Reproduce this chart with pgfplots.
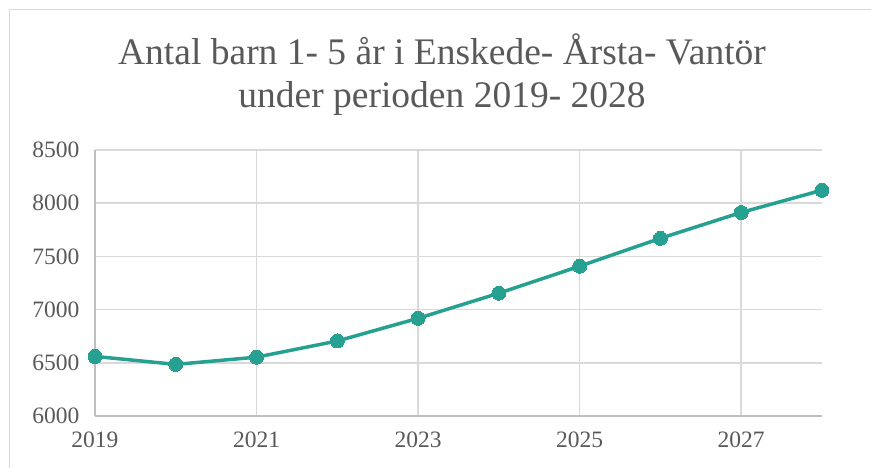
\documentclass[border=0pt]{standalone}
\usepackage{fontspec}
\setmainfont{Liberation Serif}
\usepackage{pgfplots}
\pgfplotsset{compat=1.18}
\definecolor{teal1}{RGB}{38,160,144}
\definecolor{gridc}{RGB}{217,217,217}
\definecolor{axc}{RGB}{191,191,191}
\definecolor{txt}{RGB}{89,89,89}
\begin{document}
\begin{tikzpicture}
\useasboundingbox (0pt,0pt) rectangle (871pt,468pt);
\draw[gridc, line width=1.5pt] (9.5pt,-10pt) rectangle (890pt,458.5pt);
\node[txt, font=\fontsize{37.5}{43}\selectfont, align=center, anchor=base] at (442pt,360pt) {Antal barn 1- 5 år i Enskede- Årsta- Vantör\\under perioden 2019- 2028};
\begin{axis}[
  at={(95pt,52pt)}, anchor=south west,
  scale only axis, width=727pt, height=266pt,
  xmin=2019, xmax=2028, ymin=6000, ymax=8500,
  xtick={2019,2021,2023,2025,2027},
  ytick={6000,6500,...,8500},
  xticklabel style={/pgf/number format/1000 sep={}},
  yticklabel style={/pgf/number format/1000 sep={}},
  /pgf/number format/assume math mode=true,
  ticklabel style={font=\fontsize{23.5}{26}\selectfont, text=txt},
  xmajorgrids, ymajorgrids,
  grid style={gridc, line width=1.5pt},
  axis line style={draw=none},
  axis x line*=bottom, axis y line*=left,
  major tick length=0pt,
  xticklabel shift=12pt, yticklabel shift=12pt,
  clip=false,
]
\draw[axc, line width=1.8pt] (axis cs:2019,6000) -- (axis cs:2028,6000);
\draw[axc, line width=1.5pt] (axis cs:2019,6000) -- (axis cs:2019,8500);
\addplot[teal1, line width=3.5pt, mark=*, mark size=7pt, mark options={fill=teal1, draw=teal1, line width=0pt}]
coordinates {
(2019,6560) (2020,6485) (2021,6553) (2022,6705) (2023,6918)
(2024,7154) (2025,7408) (2026,7670) (2027,7913) (2028,8122)
};
\end{axis}
\end{tikzpicture}
\end{document}
